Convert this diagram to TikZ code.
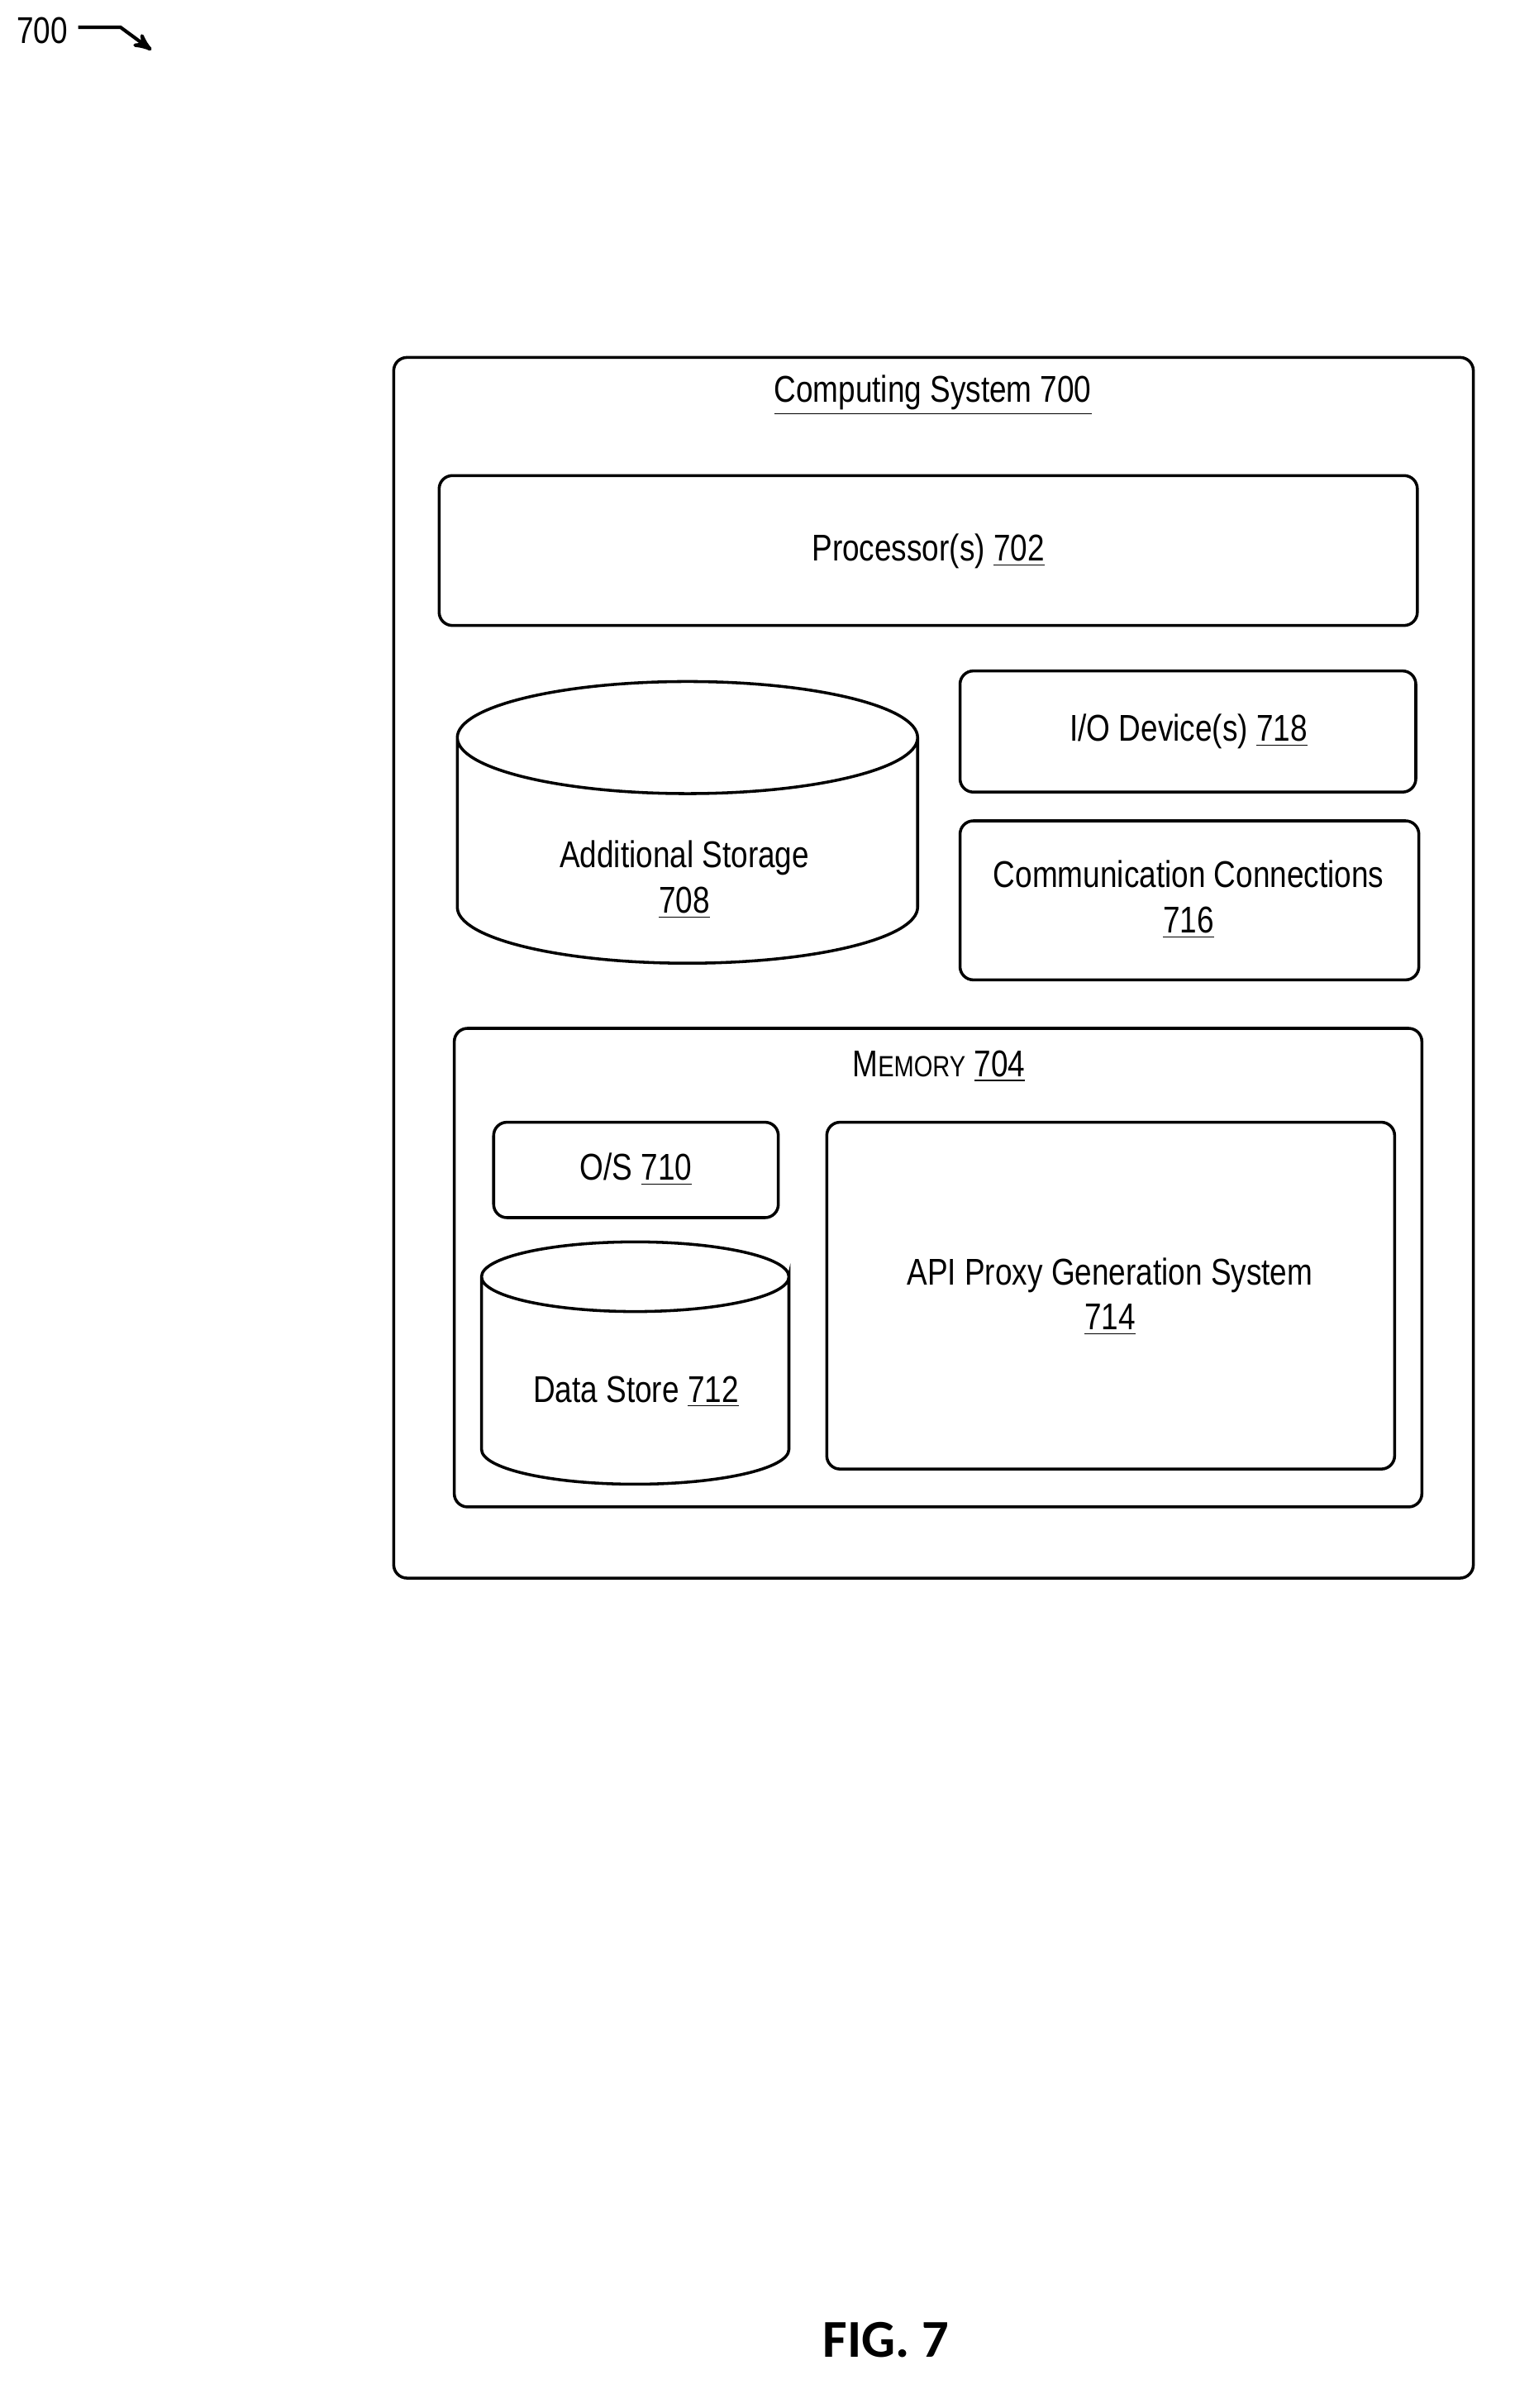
\documentclass[tikz,border=0pt]{standalone}
\usepackage{fontspec}
\setmainfont{Liberation Sans}[FakeStretch=0.82]
\newfontfamily\figfont{Carlito}
\usetikzlibrary{arrows}
\begin{document}
\begin{tikzpicture}[x=0.02cm, y=-0.02cm, line width=1.1pt,
    box/.style={draw, rounded corners=5pt},
    lbl/.style={font=\fontsize{14}{17}\selectfont, align=center}]
\useasboundingbox (0,0) rectangle (1000,1590);

% figure reference
\node [lbl, anchor=west, inner sep=0] (ref) at (10,20) {700};
\coordinate (refend) at (100,33);
\draw [->, >=stealth', line width=1.3pt] (ref.east) ++(6,-2) -- ++(28,0) -- (refend);

% system box
\draw [box] (260,236) rectangle (973,1042);
\node [lbl] (sys) at (616,261) {\underline{Computing System 700}};

\draw [box] (290,314) rectangle (936,413);
\node [lbl] (proc) at (613,364) {Processor(s) \underline{702}};

% additional storage
\draw (302,487) -- (302,599) arc[start angle=180, end angle=0, x radius=152, y radius=37]
      -- (606,487) arc[start angle=0, end angle=360, x radius=152, y radius=37];
\node [lbl] (stor) at (452,581) {Additional Storage\\\underline{708}};

\draw [box] (634,443) rectangle (935,523);
\node [lbl] (io) at (785,483) {I/O Device(s) \underline{718}};

\draw [box] (634,542) rectangle (937,647);
\node [lbl] (comm) at (785,594) {Communication Connections\\\underline{716}};

% memory
\draw [box] (300,679) rectangle (939,995);
\node [lbl] (mem) at (620,704) {M{\fontsize{11}{13}\selectfont EMORY} \underline{704}};

\draw [box] (326,741) rectangle (514,804);
\node [lbl] (os) at (420,772) {O/S \underline{710}};

\draw (318,843) -- (318,957) arc[start angle=180, end angle=0, x radius=101.5, y radius=23]
      -- (521,843) arc[start angle=0, end angle=360, x radius=101.5, y radius=23];
\node [lbl] (data) at (420,919) {Data Store \underline{712}};

\draw [box] (546,741) rectangle (921,970);
\node [lbl] (api) at (733,856) {API Proxy Generation System\\\underline{714}};

\node [font=\figfont\bfseries\fontsize{20}{24}\selectfont] (fig) at (585,1545) {FIG. 7};
\end{tikzpicture}
\end{document}
